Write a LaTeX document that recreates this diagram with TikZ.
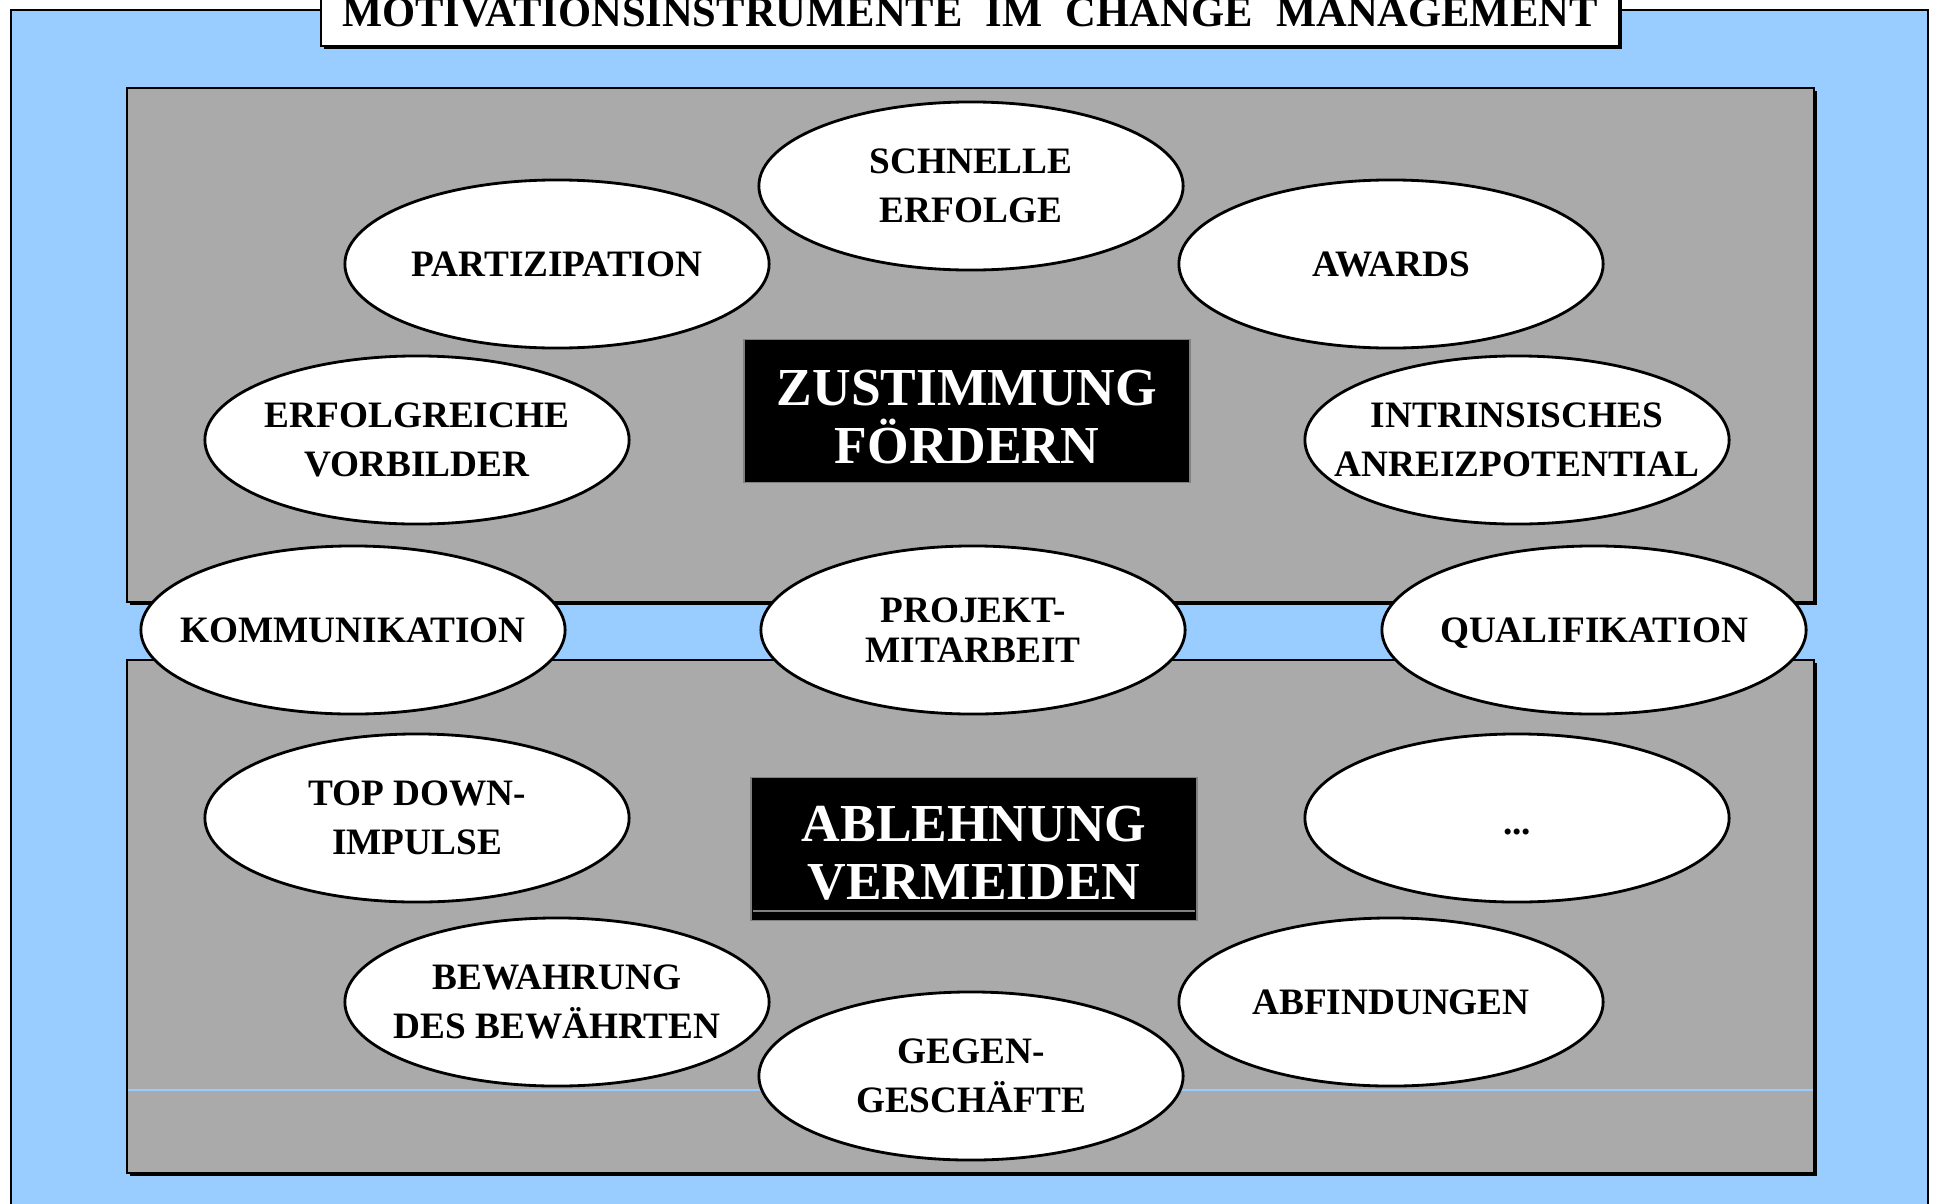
\documentclass[tikz,border=0pt]{standalone}
\usepackage{fontspec}
\setmainfont{Liberation Serif}
\usetikzlibrary{shapes.geometric}
\definecolor{skyblue}{HTML}{99CCFF}
\definecolor{panelgray}{HTML}{AAAAAA}
\newcommand{\lowered}[2]{\raisebox{-#1}[\height][\depth]{#2}}
\begin{document}
\begin{tikzpicture}[x=0.01cm,y=-0.01cm,
	inst/.style={ellipse,draw,line width=0.8pt,fill=white,minimum width=4.24cm,minimum height=1.68cm,
		inner ysep=0,inner xsep=-10mm,align=center,font=\bfseries\fontsize{10.6}{14}\selectfont},
	goal/.style={fill=black,draw=gray,line width=0.4pt,text=white,minimum width=4.46cm,minimum height=1.43cm,
		inner sep=0,align=center,font=\bfseries\fontsize{15.2}{16.5}\selectfont},
	panel/.style={draw,line width=0.8pt,fill=panelgray}]
\useasboundingbox (0,0) rectangle (1934,1203);
\clip (0,0) rectangle (1934,1203);
\draw[fill=skyblue,line width=0.8pt] (11,10) rectangle (1928,1240);
\fill (324,-20) rectangle (1622,49);
\draw[fill=white,line width=0.8pt] (321,-20) rectangle (1619,46);
\node[anchor=base,inner sep=0,font=\bfseries\fontsize{12.1}{14}\selectfont] (title) at (970,26)
	{MOTIVATIONSINSTRUMENTE\hspace{0.55em}IM\hspace{0.55em}CHANGE\hspace{0.55em}MANAGEMENT};
\fill (130,91) rectangle (1817,605);
\draw[panel] (127,88) rectangle (1814,602);
\fill (130,663) rectangle (1817,1176);
\draw[panel] (127,660) rectangle (1814,1173);
\draw[skyblue,line width=0.5pt] (128,1090) -- (1813,1090);
\node[goal] (zustimmung) at (967,411) {\lowered{1.7pt}{ZUSTIMMUNG}\\\lowered{1.7pt}{FÖRDERN}};
\node[goal] (ablehnung) at (974,849) {\lowered{1.1pt}{ABLEHNUNG}\\\lowered{1.1pt}{VERMEIDEN}};
\draw[gray,line width=0.4pt] (753,911) -- (1195,911);
\node[inst] (schnell) at (971,186) {SCHNELLE\\ERFOLGE};
\node[inst] (partizip) at (557,264) {PARTIZIPATION};
\node[inst] (awards) at (1391,264) {AWARDS};
\node[inst] (vorbild) at (417,440) {ERFOLGREICHE\\VORBILDER};
\node[inst] (intrins) at (1517,440) {INTRINSISCHES\\ANREIZPOTENTIAL};
\node[inst] (kommun) at (353,630) {KOMMUNIKATION};
\node[inst,font=\bfseries\fontsize{10.6}{11.5}\selectfont] (projekt) at (973,630) {PROJEKT-\\MITARBEIT};
\node[inst,text depth=0pt] (qualif) at (1594,630) {QUALIFIKATION};
\node[inst] (weitere) at (1517,818) {\lowered{4pt}{...}};
\node[inst] (topdown) at (417,818) {TOP DOWN-\\IMPULSE};
\node[inst] (bewahr) at (557,1002) {BEWAHRUNG\\DES BEWÄHRTEN};
\node[inst] (gegen) at (971,1076) {GEGEN-\\GESCHÄFTE};
\node[inst] (abfind) at (1391,1002) {ABFINDUNGEN};
\end{tikzpicture}
\end{document}
